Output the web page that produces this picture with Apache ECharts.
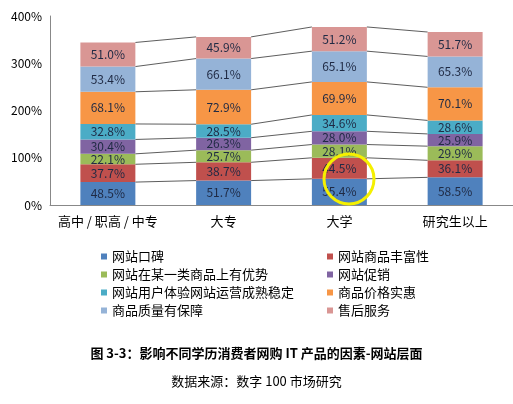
<!DOCTYPE html>
<html><head><meta charset="utf-8">
<script src="https://cdn.jsdelivr.net/npm/echarts@6/dist/echarts.min.js"></script>
<style>html,body{margin:0;padding:0;background:#fff}#c{width:513px;height:404px}</style>
</head><body><div id="c"></div>
<script>
const categories = ['高中 / 职高 / 中专','大专','大学','研究生以上'];
const seriesNames = ['网站口碑','网站商品丰富性','网站在某一类商品上有优势','网站促销','网站用户体验网站运营成熟稳定','商品价格实惠','商品质量有保障','售后服务'];
const s1 = [48.5,51.7,55.4,58.5];
const s2 = [37.7,38.7,44.5,36.1];
const s3 = [22.1,25.7,28.1,29.9];
const s4 = [30.4,26.3,28.0,25.9];
const s5 = [32.8,28.5,34.6,28.6];
const s6 = [68.1,72.9,69.9,70.1];
const s7 = [53.4,66.1,65.1,65.3];
const s8 = [51.0,45.9,51.2,51.7];
const yTicks = ['0%','100%','200%','300%','400%'];
const values = [s1,s2,s3,s4,s5,s6,s7,s8];
const colors = ['#4F81BD','#C0504D','#9BBB59','#8064A2','#4BACC6','#F79646','#95B3D7','#D99694'];
const font = '"Noto Sans CJK SC", sans-serif';
const BARW = 0.475;
const cum = values.map((v,i)=>v.map((_,j)=>values.slice(0,i+1).reduce((a,s)=>a+s[j],0)));
const lineData = [];
cum.forEach(arr=>{for(let j=0;j<arr.length-1;j++) lineData.push([j,arr[j],arr[j+1]]);});
const series = values.map((v,i)=>({
  name: seriesNames[i], type:'bar', stack:'t', data:v, barWidth:(BARW*100)+'%',
  itemStyle:{color:colors[i]},
  label:{show:true, formatter:p=>p.value.toFixed(1)+'%', color:'#1F2A44', fontSize:12, fontFamily:font}
}));
series.push({
  type:'custom', data:lineData, silent:true, z:1,
  renderItem:(params,api)=>{
    const j=api.value(0);
    const p1=api.coord([j,api.value(1)]), p2=api.coord([j+1,api.value(2)]);
    const hw=api.size([1,0])[0]*BARW/2;
    return {type:'line', shape:{x1:p1[0]+hw,y1:p1[1],x2:p2[0]-hw,y2:p2[1]}, style:{stroke:'#333',lineWidth:0.8}};
  }
});
const chart = echarts.init(document.getElementById('c'));
chart.setOption({
  animation:false,
  grid:{left:50, top:16, width:481, height:189},
  xAxis:{type:'category', data:categories, axisTick:{show:false},
    axisLine:{lineStyle:{color:'#888'}}, axisLabel:{interval:0, color:'#000', fontSize:13, fontFamily:font, margin:10}},
  yAxis:{type:'value', min:0, max:400, interval:100,
    axisLabel:{formatter:v=>yTicks[v/100], color:'#000', fontSize:12, fontFamily:font},
    axisLine:{show:true, lineStyle:{color:'#888'}}, axisTick:{show:false}, splitLine:{show:false}},
  legend:[
    {data:seriesNames.filter((_,i)=>i%2===0), orient:'vertical', left:96, top:245, itemWidth:6, itemHeight:6, itemGap:5, icon:'rect',
     textStyle:{fontSize:13, fontFamily:font, color:'#000'}},
    {data:seriesNames.filter((_,i)=>i%2===1), orient:'vertical', left:322, top:245, itemWidth:6, itemHeight:6, itemGap:5, icon:'rect',
     textStyle:{fontSize:13, fontFamily:font, color:'#000'}}
  ],
  graphic:[
    {type:'circle', shape:{cx:349, cy:179, r:25}, style:{fill:'none', stroke:'#F5F000', lineWidth:3}, z:100},
    {type:'text', left:'center', top:347, style:{text:'图 3-3：影响不同学历消费者网购 IT 产品的因素-网站层面', font:'bold 13px '+font, fill:'#000'}},
    {type:'text', left:'center', top:375, style:{text:'数据来源：数字 100 市场研究', font:'13px '+font, fill:'#000'}}
  ],
  series
});
</script></body></html>
